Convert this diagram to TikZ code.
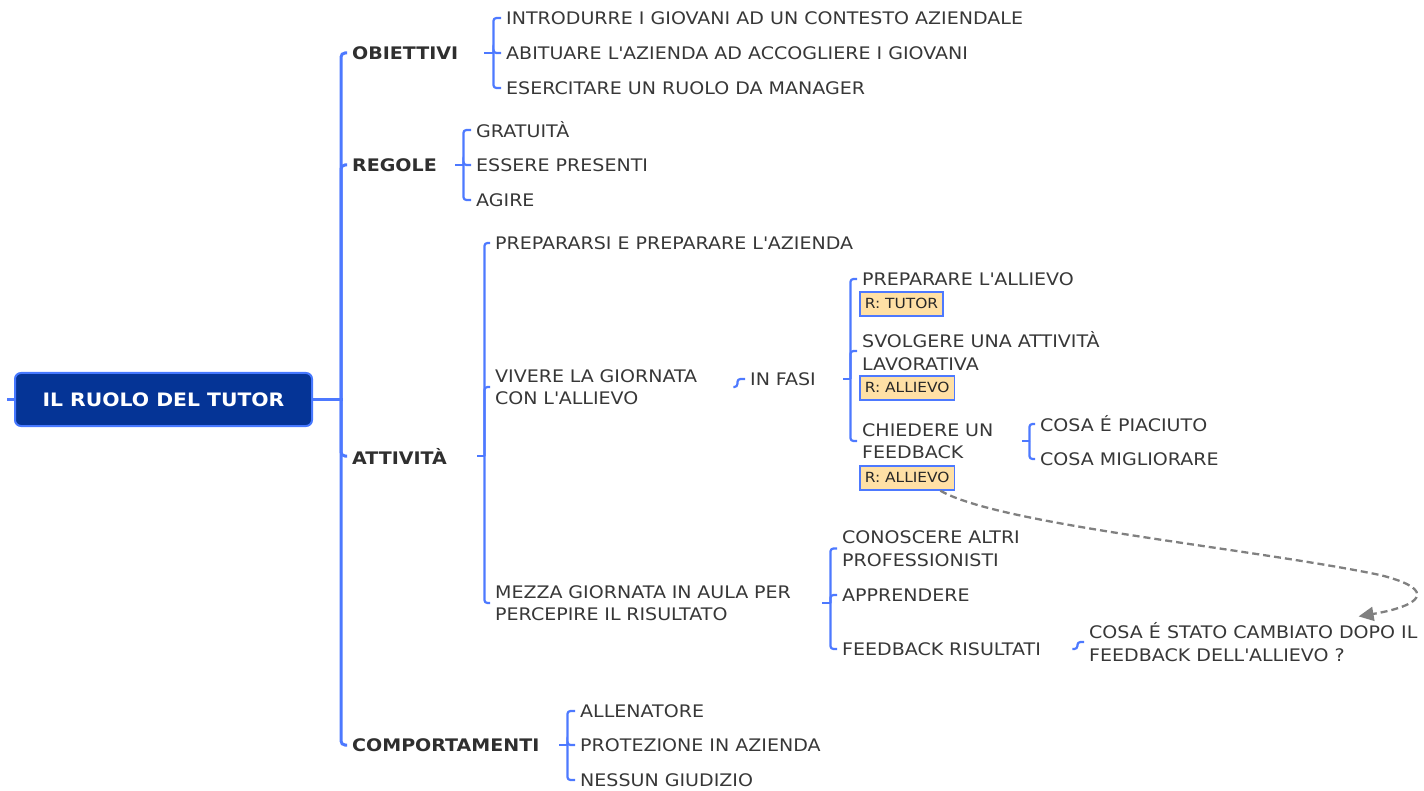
\documentclass[tikz,border=0pt]{standalone}
\usepackage{fontspec}
\setmainfont[FakeStretch=1.1]{DejaVu Sans}
\usetikzlibrary{arrows.meta}
\definecolor{lb}{RGB}{77,121,255}
\definecolor{tc}{RGB}{55,55,55}
\definecolor{rootfill}{RGB}{5,52,150}
\definecolor{rootdraw}{RGB}{70,120,255}
\definecolor{bxfill}{RGB}{255,224,165}
\definecolor{dashgray}{RGB}{128,128,128}
\begin{document}
\begin{tikzpicture}[x=1pt,y=-1pt,
  txt/.style={anchor=west,inner xsep=5pt,inner ysep=1pt,text=tc,font=\fontsize{17.3}{22.5}\selectfont,align=left},
  lone/.style={txt,font=\fontsize{17.3}{22.5}\selectfont\bfseries,text=tc!85!black},
  br/.style={draw=lb,line width=2.2pt,rounded corners=3pt},
  mainbr/.style={draw=lb,line width=3pt,rounded corners=4pt},
  rootbox/.style={draw=rootdraw,fill=rootfill,line width=2pt,rounded corners=6pt,minimum width=297pt,minimum height=53pt,text=white,font=\fontsize{18.5}{20}\selectfont\bfseries},
  bx/.style={draw=lb,fill=bxfill,line width=1.7pt,anchor=north west,inner xsep=5pt,inner ysep=0pt,minimum height=24pt,text=tc!70!black,font=\fontsize{14}{16}\selectfont},
  link/.style={draw=dashgray,dashed,dash pattern=on 7pt off 4pt,line width=2.3pt,-{Triangle[length=15pt,width=14pt]}}
]
\useasboundingbox (0,0) rectangle (1424,791);

% root
\node[rootbox] (root) at (163.5,399.5) {IL RUOLO DEL TUTOR};
\draw[mainbr] (root.west) -- ++(-7,0);

% level 1
\node[lone,text width=127pt] (ob) at (347,53) {OBIETTIVI};
\node[lone,text width=98pt] (re) at (347,165) {REGOLE};
\node[lone,text width=120pt] (at) at (347,456) {ATTIVITÀ};
\node[lone,text width=202pt] (co) at (347,745) {COMPORTAMENTI};
\draw[mainbr,rounded corners=0pt] (root.east) -- ++(29.5,0);
\foreach \c in {ob,re,at,co} \draw[mainbr] ([xshift=28pt]root.east) |- (\c.west);

% obiettivi
\node[txt] (ob1) at (501,18) {INTRODURRE I GIOVANI AD UN CONTESTO AZIENDALE};
\node[txt] (ob2) at (501,53) {ABITUARE L\textquotesingle AZIENDA AD ACCOGLIERE I GIOVANI};
\node[txt] (ob3) at (501,88) {ESERCITARE UN RUOLO DA MANAGER};
\draw[br,rounded corners=0pt] (ob.east) -- ++(10,0);
\foreach \c in {ob1,ob2,ob3} \draw[br] ([xshift=9pt]ob.east) |- (\c.west);

% regole
\node[txt] (re1) at (471,130) {GRATUITÀ};
\node[txt] (re2) at (471,165) {ESSERE PRESENTI};
\node[txt] (re3) at (471,200) {AGIRE};
\draw[br,rounded corners=0pt] (re.east) -- ++(9,0);
\foreach \c in {re1,re2,re3} \draw[br] ([xshift=8pt]re.east) |- (\c.west);

% attivita
\node[txt] (pr) at (490,243) {PREPARARSI E PREPARARE L\textquotesingle AZIENDA};
\node[txt,text width=233pt] (vi) at (490,387) {VIVERE LA GIORNATA\\CON L\textquotesingle ALLIEVO};
\node[txt,text width=322pt] (me) at (490,603) {MEZZA GIORNATA IN AULA PER\\PERCEPIRE IL RISULTATO};
\draw[br,rounded corners=0pt] (at.east) -- ++(8,0);
\foreach \c in {pr,vi,me} \draw[br] ([xshift=7pt]at.east) |- (\c.west);

% in fasi
\node[txt,text width=88pt] (fa) at (745,379) {IN FASI};
\draw[br] (vi.east) -- ++(4,0) |- (fa.west);

\node[txt] (p1) at (857,279) {PREPARARE L\textquotesingle ALLIEVO};
\node[bx] (b1) at (859,291) {R: TUTOR};
\node[txt] (p2) at (857,351) {SVOLGERE UNA ATTIVITÀ\\LAVORATIVA};
\node[bx] (b2) at (859,375) {R: ALLIEVO};
\node[txt,text width=155pt] (p3) at (857,441) {CHIEDERE UN\\FEEDBACK};
\node[bx] (b3) at (859,465) {R: ALLIEVO};
\draw[br,rounded corners=0pt] (fa.east) -- ++(8,0);
\foreach \c in {p1,p2,p3} \draw[br] ([xshift=7pt]fa.east) |- (\c.west);

\node[txt] (f1) at (1035,424) {COSA É PIACIUTO};
\node[txt] (f2) at (1035,459) {COSA MIGLIORARE};
\draw[br,rounded corners=0pt] (p3.east) -- ++(8,0);
\foreach \c in {f1,f2} \draw[br] ([xshift=7pt]p3.east) |- (\c.west);

% mezza giornata
\node[txt] (m1) at (837,548.5) {CONOSCERE ALTRI\\PROFESSIONISTI};
\node[txt] (m2) at (837,595) {APPRENDERE};
\node[txt,text width=225pt] (m3) at (837,649) {FEEDBACK RISULTATI};
\draw[br,rounded corners=0pt] (me.east) -- ++(9,0);
\foreach \c in {m1,m2,m3} \draw[br] ([xshift=8pt]me.east) |- (\c.west);

\node[txt] (q) at (1084,642) {COSA É STATO CAMBIATO DOPO IL\\FEEDBACK DELL\textquotesingle ALLIEVO ?};
\draw[br] (m3.east) -- ++(5,0) |- (q.west);

% comportamenti
\node[txt] (co1) at (575,711) {ALLENATORE};
\node[txt] (co2) at (575,745) {PROTEZIONE IN AZIENDA};
\node[txt] (co3) at (575,780) {NESSUN GIUDIZIO};
\draw[br,rounded corners=0pt] (co.east) -- ++(9,0);
\foreach \c in {co1,co2,co3} \draw[br] ([xshift=8pt]co.east) |- (\c.west);

% dashed relation
\draw[link] ([xshift=-15pt]b3.south east) .. controls (1000,525) and (1250,548) .. (1380,575) .. controls (1440,590) and (1420,606) .. ([xshift=-64pt,yshift=5pt]q.north east);
\end{tikzpicture}
\end{document}
